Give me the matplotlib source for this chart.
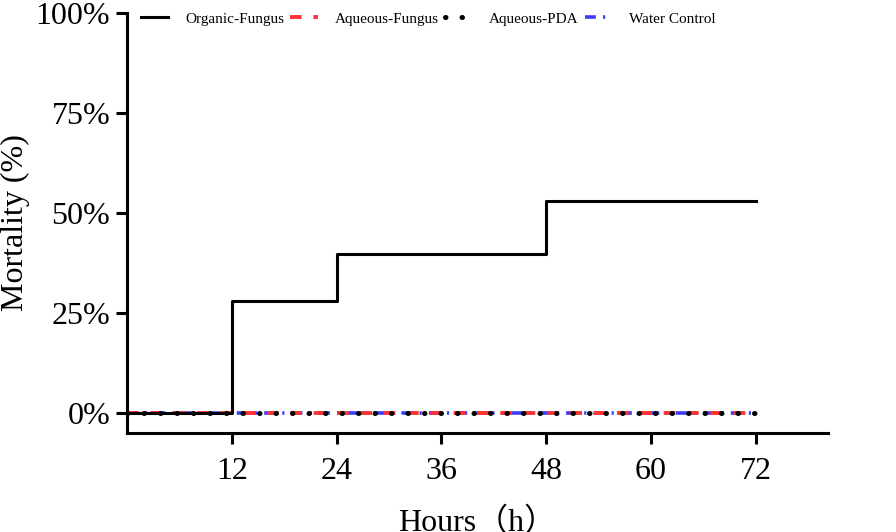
import matplotlib
matplotlib.use("Agg")
import matplotlib.pyplot as plt
from matplotlib.ticker import FuncFormatter

hours = [0, 12, 24, 48, 72]
organic_fungus = [0, 28, 39.7, 53, 53]
aqueous_fungus = [0, 0, 0, 0, 0]
aqueous_pda = [0, 0, 0, 0, 0]
water_control = [0, 0, 0, 0, 0]
xticks = [12, 24, 36, 48, 60, 72]
yticks = [0, 25, 50, 75, 100]

serif = ['Liberation Serif', 'Noto Sans CJK SC', 'DejaVu Sans']
plt.rcParams['font.family'] = serif

fig = plt.figure(figsize=(8.96, 5.32), dpi=100)
ax = fig.add_axes([127/896, 1-433/532, (828-127)/896, (433-13)/532])

ax.step(hours, water_control, where='post', color='#3b3bff', lw=2.6,
        linestyle=(0, (3, 2, 0.6, 2)), label='Water Control', zorder=2)
ax.step(hours, aqueous_fungus, where='post', color='#ff3333', lw=2.8,
        linestyle=(0, (3, 3)), label='Aqueous-Fungus', zorder=3)
ax.step(hours, aqueous_pda, where='post', color='black', lw=3.6,
        linestyle=(0, (0.1, 3.2)), dash_capstyle='round', label='Aqueous-PDA', zorder=4)
ax.step(hours, organic_fungus, where='post', color='black', lw=2.2,
        label='Organic-Fungus', zorder=3)

ax.set_xlim(0, 80.3)
ax.set_ylim(-5, 100)
ax.set_xticks(xticks)
ax.set_yticks(yticks)
ax.yaxis.set_major_formatter(FuncFormatter(lambda v, p: f"{v:.0f}%"))
for s in ['top', 'right']:
    ax.spines[s].set_visible(False)
for s in ['left', 'bottom']:
    ax.spines[s].set_linewidth(2.2)
ax.spines['left'].set_bounds(-5, 100)
ax.tick_params(axis='both', width=2.2, length=8, labelsize=23, pad=4)
ax.tick_params(axis='x', pad=9)

ax.set_xlabel('Hours（h）', fontsize=23, labelpad=16)
ax.set_ylabel('Mortality (%)', fontsize=23, labelpad=4)

handles, labels = ax.get_legend_handles_labels()
order = [3, 1, 2, 0]
leg = ax.legend([handles[i] for i in order], [labels[i] for i in order],
                ncol=4, frameon=False, loc='upper left',
                bbox_to_anchor=(0.0, 1.035), fontsize=11,
                handlelength=1.8, columnspacing=0.4, handletextpad=1.1)

fig.savefig('out.png', dpi=100)
